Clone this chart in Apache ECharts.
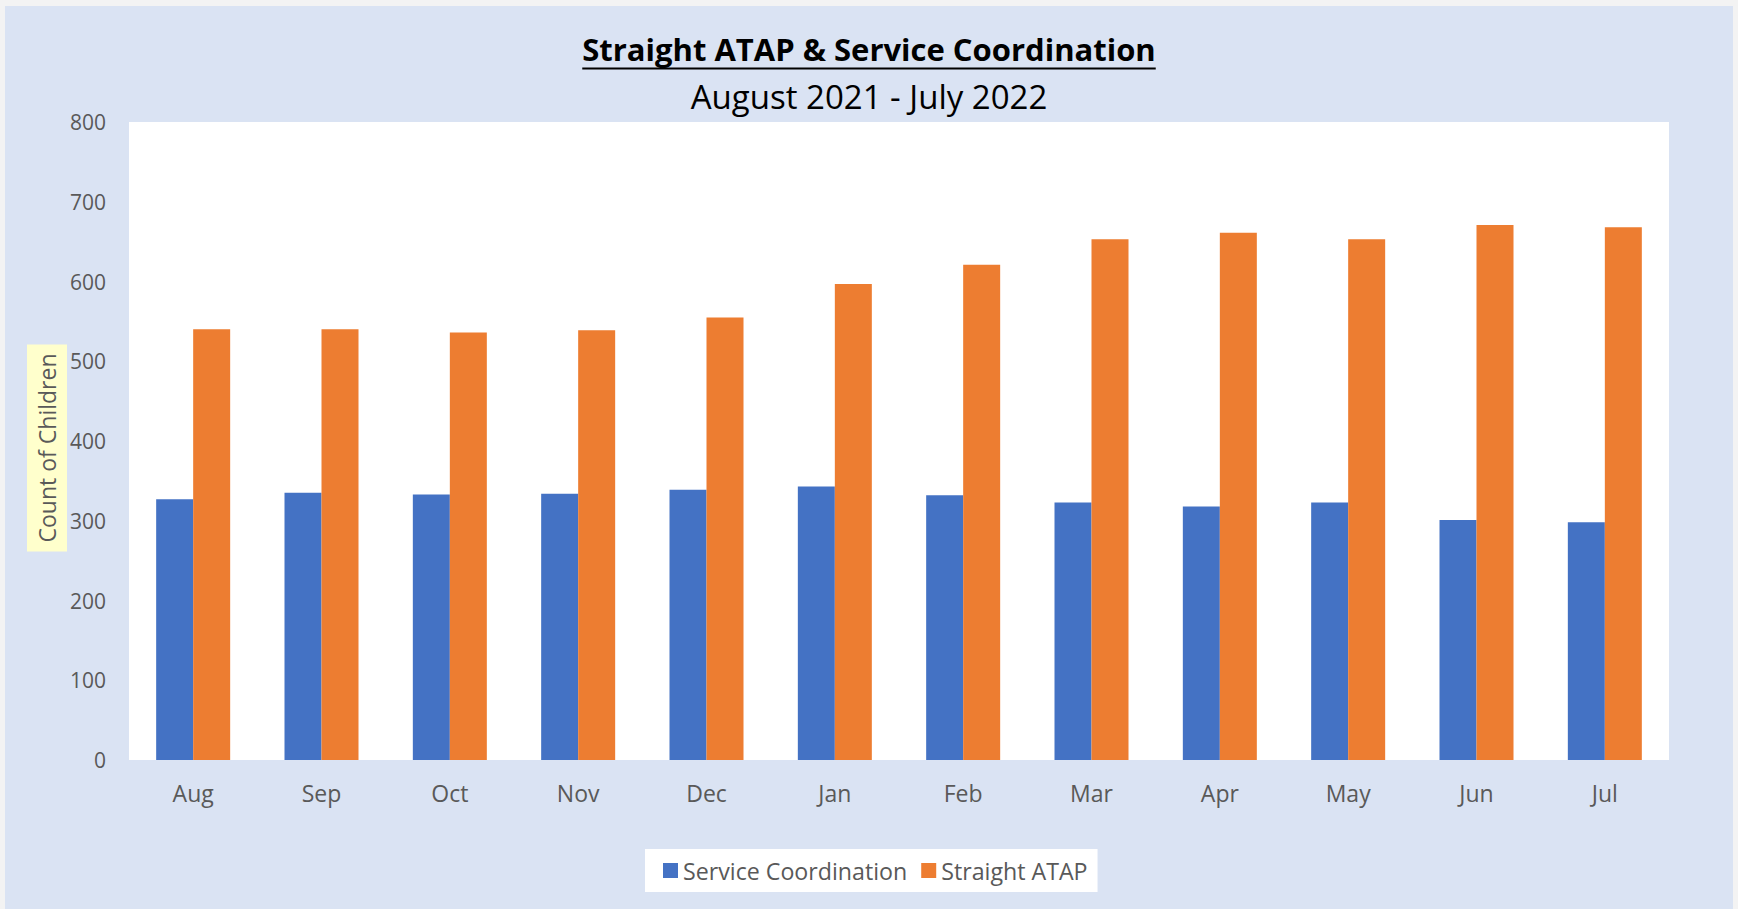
<!DOCTYPE html>
<html>
<head>
<meta charset="utf-8">
<title>Straight ATAP & Service Coordination</title>
<script src="https://cdn.jsdelivr.net/npm/echarts@6/dist/echarts.min.js"></script>
<style>
    html, body {
        margin: 0;
        padding: 0;
        width: 1738px;
        height: 909px;
        background: #f3f3f3;
        overflow: hidden;
    }
    #panel {
        position: absolute;
        left: 5px;
        top: 6px;
        width: 1728px;
        height: 903px;
        background: #dae3f3;
    }
    #chart {
        position: absolute;
        left: 0;
        top: 0;
        width: 1738px;
        height: 909px;
    }
</style>
</head>
<body>
<div id="panel"></div>
<div id="chart"></div>
<script>
// 月份
var months = ['Aug', 'Sep', 'Oct', 'Nov', 'Dec', 'Jan', 'Feb', 'Mar', 'Apr', 'May', 'Jun', 'Jul'];

// 两个系列的值
var serviceCoordination = [327, 335, 333, 334, 339, 343, 332, 323, 318, 323, 301, 298];
var straightAtap = [540, 540, 536, 539, 555, 597, 621, 653, 661, 653, 671, 668];

// y轴刻度
var yTicks = [0, 100, 200, 300, 400, 500, 600, 700, 800];

var titleText = 'Straight ATAP & Service Coordination';
var subText = 'August 2021 - July 2022';
var yName = 'Count of Children';
var fontName = '"Open Sans", "Noto Sans", sans-serif';
var labelColor = '#595959';

// 标题下划线宽度
var measure = function(text, font) {
    var ctx = document.createElement('canvas').getContext('2d');
    ctx.font = font;
    return ctx.measureText(text).width;
};

var createChart = function() {
    var myChart = echarts.init(document.getElementById('chart'), null, {
        renderer: 'svg'
    });
    var titleWidth = measure(titleText, 'bold 31px "Open Sans"');
    var cx = 869;

    var option = {
        backgroundColor: 'transparent',
        animation: false,
        title: [{
            text: titleText,
            left: 'center',
            top: 26,
            textStyle: {
                fontFamily: fontName,
                fontWeight: 'bold',
                fontSize: 31,
                lineHeight: 36,
                color: '#000'
            }
        }, {
            text: subText,
            left: 'center',
            top: 73,
            textStyle: {
                fontFamily: fontName,
                fontWeight: 'normal',
                fontSize: 33,
                lineHeight: 36,
                color: '#000'
            }
        }],
        graphic: [{
            type: 'line',
            shape: {
                x1: cx - titleWidth / 2,
                y1: 68.5,
                x2: cx + titleWidth / 2,
                y2: 68.5
            },
            style: {
                stroke: '#000',
                lineWidth: 2
            }
        }, {
            // y轴标题（黄色底）
            type: 'text',
            x: 47,
            y: 448,
            rotation: Math.PI / 2,
            style: {
                text: yName,
                align: 'center',
                verticalAlign: 'middle',
                font: '23px "Open Sans", "Noto Sans", sans-serif',
                fill: labelColor,
                backgroundColor: '#ffffcc',
                lineHeight: 28,
                padding: [6, 9, 6, 9]
            }
        }],
        legend: {
            left: 645,
            top: 849,
            padding: [8, 10, 8, 18],
            backgroundColor: '#fff',
            icon: 'rect',
            itemWidth: 15,
            itemHeight: 15,
            itemGap: 14,
            textStyle: {
                fontFamily: fontName,
                fontSize: 23.2,
                color: labelColor,
                lineHeight: 27
            },
            data: ['Service Coordination', 'Straight ATAP']
        },
        grid: {
            left: 129,
            right: 69,
            top: 122,
            bottom: 149,
            show: true,
            backgroundColor: '#fff',
            borderWidth: 0,
            containLabel: false
        },
        xAxis: {
            type: 'category',
            data: months,
            axisLine: { show: false },
            axisTick: { show: false },
            axisLabel: {
                margin: 21,
                fontFamily: fontName,
                fontSize: 23,
                color: labelColor
            }
        },
        yAxis: {
            type: 'value',
            min: yTicks[0],
            max: yTicks[yTicks.length - 1],
            interval: yTicks[1] - yTicks[0],
            splitLine: { show: false },
            axisLine: { show: false },
            axisTick: { show: false },
            axisLabel: {
                margin: 23,
                fontFamily: fontName,
                fontSize: 21,
                color: labelColor
            }
        },
        series: [{
            name: 'Service Coordination',
            type: 'bar',
            data: serviceCoordination,
            barWidth: 37,
            barGap: '0%',
            itemStyle: { color: '#4472c4' }
        }, {
            name: 'Straight ATAP',
            type: 'bar',
            data: straightAtap,
            barWidth: 37,
            barGap: '0%',
            itemStyle: { color: '#ed7d31' }
        }]
    };
    myChart.setOption(option);
};

createChart();
</script>
</body>
</html>
